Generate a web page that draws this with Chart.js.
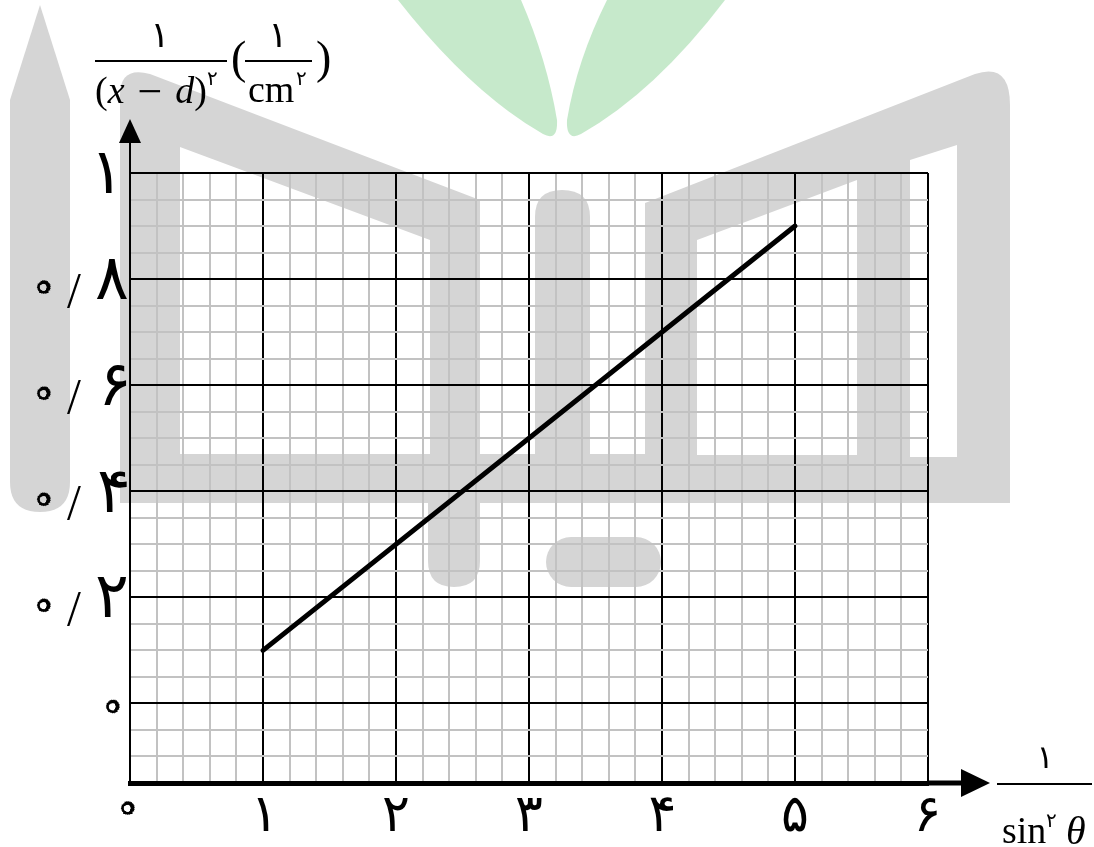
<!DOCTYPE html>
<html>
<head>
<meta charset="utf-8">
<script src="https://cdn.jsdelivr.net/npm/chart.js@4"></script>
<style>
  html, body { margin: 0; padding: 0; background: #fff; }
  #wrap { position: relative; width: 1094px; height: 847px; overflow: hidden; }
  #logo { position: absolute; left: 0; top: 0; z-index: 0; }
  #chartBox { position: absolute; left: 0; top: 0; width: 1094px; height: 847px; z-index: 1; }
  .t { position: absolute; z-index: 2; line-height: 1; white-space: nowrap; color: #000; }
  .fa { font-family: "DejaVu Sans", sans-serif; }
  .se { font-family: "Liberation Serif", "DejaVu Serif", serif; }
  .bar { position: absolute; z-index: 2; height: 2px; background: #000; }
  .mi { margin: 0 13px; font-size: 44px; vertical-align: -3px; }
  i { font-style: italic; }
</style>
</head>
<body>
<div id="wrap">
  <svg id="logo" width="1094" height="847" viewBox="0 0 1094 847">
    <g fill="#d5d5d5">
      <path d="M10,100 L40,5 L70,100 L70,482 Q70,512 40,512 Q10,512 10,482 Z"/>
      <path d="M120,502 L120,95 Q120,66 150,74 L480,200 L480,502 Z"/>
      <path d="M535,502 L535,217 Q535,190 562,190 Q590,190 590,217 L590,502 Z"/>
      <path d="M645,503 L645,203 L975,74 Q1010,62 1010,105 L1010,503 Z"/>
      <rect x="120" y="454" width="890" height="49"/>
      <path d="M428,454 L480,454 L480,561 Q480,587 454,587 Q428,587 428,561 Z"/>
      <rect x="546" y="537" width="115" height="50" rx="25"/>
    </g>
    <g fill="#ffffff">
      <path d="M180,147 L430,240 L430,454 L180,454 Z"/>
      <path d="M697,240 L857,180 L857,455 L697,455 Z"/>
      <path d="M910,160 L957,145 L957,457 L910,457 Z"/>
    </g>
    <g fill="#c6e9cb">
      <path d="M398,0 Q470,92 543,134 Q558,142 557,120 Q547,60 521,0 Z"/>
      <path d="M607,0 Q577,60 567,120 Q566,142 581,134 Q655,92 725,0 Z"/>
    </g>
  </svg>
  <div id="chartBox"><canvas id="graph"></canvas></div>

  <!-- y axis title: 1/(x-d)^2 (1/cm^2) -->
  <div class="t fa" style="left:130px; top:17px; width:60px; text-align:center; font-size:36px;">۱</div>
  <div class="bar" style="left:95px; top:60px; width:132px;"></div>
  <div class="t se" style="left:95px; top:70px; font-size:38px;">(<i>x</i><span class="mi">−</span><i>d</i>)</div>
  <div class="t fa" style="left:207px; top:68px; font-size:20px;">۲</div>
  <div class="t se" style="left:231px; top:35px; font-size:46px;">(</div>
  <div class="t fa" style="left:248px; top:17px; width:60px; text-align:center; font-size:36px;">۱</div>
  <div class="bar" style="left:245px; top:60px; width:67px;"></div>
  <div class="t se" style="left:248px; top:70px; font-size:38px;">cm</div>
  <div class="t fa" style="left:296px; top:68px; font-size:20px;">۲</div>
  <div class="t se" style="left:316px; top:35px; font-size:46px;">)</div>

  <!-- x axis title: 1/sin^2 theta -->
  <div class="t fa" style="left:1015px; top:741px; width:60px; text-align:center; font-size:32px;">۱</div>
  <div class="bar" style="left:997px; top:783px; width:95px;"></div>
  <div class="t se" style="left:1002px; top:811px; font-size:38px;">sin</div>
  <div class="t fa" style="left:1046px; top:810px; font-size:20px;">۲</div>
  <div class="t se" style="left:1066px; top:811px; font-size:40px;"><i>θ</i></div>
</div>

<script>
// axis ticks
const xTickValues = [0, 1, 2, 3, 4, 5, 6];
const xTickLabels = ['۰', '۱', '۲', '۳', '۴', '۵', '۶'];
const yTickValues = [0, 0.2, 0.4, 0.6, 0.8, 1];
const yTickLabels = ['۰', '۰/۲', '۰/۴', '۰/۶', '۰/۸', '۱'];
const xMin = 0, xMax = 6, xMinor = 0.2;
const yMin = -0.15, yMax = 1, yMinor = 0.05, yMajor = 0.2;

// the fitted line
const lineX = [1, 5];
const lineY = [0.1, 0.9];

const near = (v, step) => Math.abs(v / step - Math.round(v / step)) < 1e-6;

// draw a glyph with its ink box centred on (cx, cy)
function centred(ctx, text, cx, cy, font) {
    ctx.font = font;
    ctx.textAlign = 'left';
    ctx.textBaseline = 'alphabetic';
    const m = ctx.measureText(text);
    const x = cx - (m.actualBoundingBoxRight - m.actualBoundingBoxLeft) / 2;
    const y = cy - (m.actualBoundingBoxDescent - m.actualBoundingBoxAscent) / 2;
    ctx.fillText(text, x, y);
}

// the zero is an open ring in the original; the DejaVu glyph is a square,
// so it is laid down at a few angles and the middle cut out
function zero(ctx, cx, cy) {
    ctx.save();
    ctx.textAlign = 'left';
    ctx.textBaseline = 'alphabetic';
    ctx.font = '100px "DejaVu Sans"';
    const s100 = ctx.measureText('۰');
    const side100 = s100.actualBoundingBoxRight + s100.actualBoundingBoxLeft;
    const blob = d => {
        ctx.font = (100 * (d / 1.34) / side100) + 'px "DejaVu Sans"';
        const m = ctx.measureText('۰');
        const ox = -(m.actualBoundingBoxRight - m.actualBoundingBoxLeft) / 2;
        const oy = (m.actualBoundingBoxAscent - m.actualBoundingBoxDescent) / 2;
        for (let k = 0; k < 6; k++) {
            ctx.save();
            ctx.translate(cx, cy);
            ctx.rotate(k * Math.PI / 12);
            ctx.fillText('۰', ox, oy);
            ctx.restore();
        }
    };
    blob(14);
    ctx.globalCompositeOperation = 'destination-out';
    blob(7);
    ctx.restore();
}

function digit(ctx, text, cx, cy, size) {
    if (text === '۰') zero(ctx, cx, cy);
    else centred(ctx, text, cx, cy, size + 'px "DejaVu Sans"');
}

const tickText = {
    id: 'tickText',
    afterDraw(chart) {
        const { ctx, scales } = chart;
        const x0 = scales.x.getPixelForValue(xMin);
        const yb = scales.y.getPixelForValue(yMin);
        ctx.save();
        ctx.fillStyle = '#000';
        xTickLabels.forEach((t, i) => {
            const px = scales.x.getPixelForValue(xTickValues[i]);
            if (t === '۰') zero(ctx, px - 2, yb + 25);
            else digit(ctx, t, px, yb + 31, 52);
        });
        yTickLabels.forEach((t, i) => {
            const py = scales.y.getPixelForValue(yTickValues[i]);
            const parts = t.split('/');
            if (parts.length === 1) {
                if (t === '۰') zero(ctx, x0 - 17, py + 3);
                else digit(ctx, t, x0 - 25, py, 63);
                return;
            }
            zero(ctx, x0 - 86, py + 8);
            centred(ctx, '/', x0 - 56, py + 12, '50px "Liberation Serif"');
            ctx.font = '63px "DejaVu Sans"';
            const w = ctx.measureText(parts[1]);
            const dw = w.actualBoundingBoxRight + w.actualBoundingBoxLeft;
            digit(ctx, parts[1], x0 - 3 - dw / 2, py, 63);
        });
        ctx.restore();
    }
};

const axisArrows = {
    id: 'axisArrows',
    afterDraw(chart) {
        const { ctx, chartArea, scales } = chart;
        const x0 = scales.x.getPixelForValue(xMin);
        const yb = scales.y.getPixelForValue(yMin);
        ctx.save();
        ctx.fillStyle = '#000';
        ctx.strokeStyle = '#000';
        ctx.lineWidth = 2;
        ctx.beginPath();
        ctx.moveTo(x0, chartArea.top);
        ctx.lineTo(x0, chartArea.top - 32);
        ctx.stroke();
        ctx.beginPath();
        ctx.moveTo(x0, chartArea.top - 54);
        ctx.lineTo(x0 - 11, chartArea.top - 30);
        ctx.lineTo(x0 + 11, chartArea.top - 30);
        ctx.closePath();
        ctx.fill();
        ctx.lineWidth = 5;
        ctx.beginPath();
        ctx.moveTo(chartArea.right, yb);
        ctx.lineTo(chartArea.right + 36, yb);
        ctx.stroke();
        ctx.beginPath();
        ctx.moveTo(chartArea.right + 62, yb);
        ctx.lineTo(chartArea.right + 33, yb - 14);
        ctx.lineTo(chartArea.right + 33, yb + 14);
        ctx.closePath();
        ctx.fill();
        ctx.restore();
    }
};

const ctx = document.getElementById('graph').getContext('2d');
new Chart(ctx, {
    type: 'line',
    data: {
        datasets: [{
            data: lineX.map((x, i) => ({ x: x, y: lineY[i] })),
            borderColor: '#000',
            borderWidth: 5,
            borderCapStyle: 'round',
            pointRadius: 0,
            tension: 0,
            fill: false
        }]
    },
    options: {
        responsive: true,
        maintainAspectRatio: false,
        animation: false,
        layout: { padding: { top: 173, right: 166, left: 0, bottom: 0 } },
        plugins: { legend: { display: false }, tooltip: { enabled: false } },
        scales: {
            x: {
                type: 'linear',
                min: xMin,
                max: xMax,
                afterFit: s => { s.height = 64; },
                border: { display: true, color: '#000', width: 5 },
                grid: {
                    drawTicks: false,
                    lineWidth: 2,
                    color: c => near(c.tick.value, 1) ? '#000' : '#c2c2c2'
                },
                ticks: { stepSize: xMinor, autoSkip: false, display: false }
            },
            y: {
                min: yMin,
                max: yMax,
                afterFit: s => { s.width = 130; },
                border: { display: true, color: '#000', width: 2 },
                grid: {
                    drawTicks: false,
                    lineWidth: 2,
                    color: c => near(c.tick.value, yMajor) && c.tick.value > -1e-6 ? '#000' : '#c2c2c2'
                },
                ticks: { stepSize: yMinor, autoSkip: false, display: false }
            }
        }
    },
    plugins: [axisArrows, tickText]
});
</script>
</body>
</html>
